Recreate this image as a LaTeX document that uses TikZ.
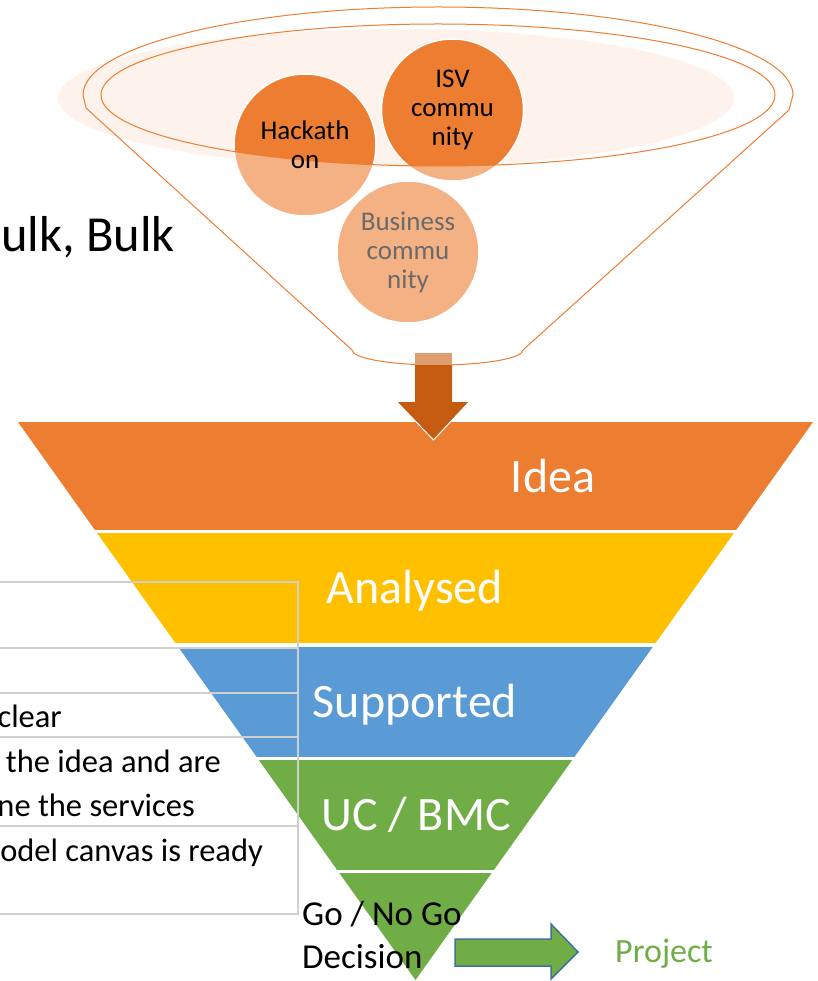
\documentclass[tikz,border=0pt]{standalone}
\usepackage{fontspec}
\setmainfont{Carlito}
\usetikzlibrary{positioning}

\definecolor{ideaorange}{HTML}{ED7D31}
\definecolor{analysedyellow}{HTML}{FFC000}
\definecolor{supportedblue}{HTML}{5B9BD5}
\definecolor{ucgreen}{HTML}{70AD47}
\definecolor{paleorange}{HTML}{FDF3EC}
\definecolor{bubblelight}{HTML}{F4B183}
\definecolor{arrowdark}{HTML}{C55A11}
\definecolor{arrowlight}{HTML}{E09D70}
\definecolor{boxgray}{HTML}{D0D0D0}
\definecolor{bubblegray}{HTML}{6A6A6A}
\definecolor{arrowblue}{HTML}{41719C}

\begin{document}
\begin{tikzpicture}[x=1pt,y=-1pt,
    bandlabel/.style={anchor=base,inner sep=0pt,text=white,font=\fontsize{48}{48}\selectfont},
    bubble/.style={align=center,inner sep=0pt,font=\fontsize{27}{29}\selectfont},
    listline/.style={draw=boxgray,line width=1.5pt},
    listtext/.style={anchor=base east,inner sep=0pt,font=\fontsize{32.5}{32.5}\selectfont}]
      \useasboundingbox (0,0) rectangle (817,981);

      % Top funnel > pale background
      \fill[paleorange] (396,98) ellipse [x radius=338, y radius=69];

      % Bubbles (light where they leave the rim)
      \fill[bubblelight] (305,145) circle (71);
      \fill[bubblelight] (452.5,110) circle (71);
      \fill[bubblelight] (408,252) circle (71);
      \begin{scope}
        \clip (438,95) ellipse [x radius=337, y radius=71];
        \fill[ideaorange] (305,145) circle (71);
        \fill[ideaorange] (452.5,110) circle (71);
      \end{scope}
      \draw[white,line width=1.5pt] (305,145) circle (71);
      \draw[white,line width=1.5pt] (452.5,110) circle (71);
      \draw[white,line width=1.5pt] (408,252) circle (71);

      % Top funnel > rim and body
      \draw[ideaorange,line width=1pt] (438,95) ellipse [x radius=337, y radius=71];
      \draw[ideaorange,line width=1pt] (83,95)
        arc [start angle=180, end angle=360, x radius=355, y radius=88]
        -- (789,110) -- (523,350)
        arc [start angle=0, end angle=180, x radius=85.5, y radius=15]
        -- (86,108) -- cycle;

      \node[bubble] (hackathon) at (305,145) {Hackath\\on};
      \node[bubble] (isv) at (452.5,110) {ISV\\commu\\nity};
      \node[bubble,text=bubblegray] (business) at (408,252) {Business\\commu\\nity};

      \node[anchor=base east,inner sep=0pt,font=\fontsize{50.5}{50.5}\selectfont] (bulk) at (175,252) {ulk, Bulk};

      % Stage funnel
      \begin{scope}
        \clip (18,422) -- (813,422) -- (415.5,980) -- cycle;
        \fill[ideaorange] (0,422) rectangle (817,530);
        \fill[analysedyellow] (0,533) rectangle (817,643);
        \fill[supportedblue] (0,647) rectangle (817,757);
        \fill[ucgreen] (0,760) rectangle (817,870);
        \fill[ucgreen] (0,873) rectangle (817,981);
      \end{scope}

      % Down arrow into the funnel
      \fill[arrowlight] (415,353) rectangle (452,365);
      \fill[arrowdark] (415,365) -- (452,365) -- (452,402) -- (469,402)
        -- (433.5,440) -- (397,402) -- (415,402) -- cycle;
      \draw[white,line width=1pt] (469,402) -- (433.5,440) -- (397,402);

      \node[bandlabel] (idea) at (553,492) {Idea};
      \node[bandlabel] (analysed) at (415,603) {Analysed};
      \node[bandlabel] (supported) at (415,717) {Supported};
      \node[bandlabel] (ucbmc) at (416,830) {UC / BMC};

      % Criteria table
      \draw[listline] (0,582) -- (298,582) -- (298,914) -- (0,914);
      \draw[listline] (0,648) -- (298,648);
      \draw[listline] (0,693) -- (298,693);
      \draw[listline] (0,737) -- (298,737);
      \draw[listline] (0,826) -- (298,826);

      \node[listtext] (crit1) at (62,727) {clear};
      \node[listtext] (crit2) at (221,772) {the idea and are};
      \node[listtext] (crit3) at (195,816) {ne the services};
      \node[listtext] (crit4) at (263,861) {odel canvas is ready};

      % Decision and outcome
      \node[anchor=west,inner sep=0pt,align=left,font=\fontsize{35}{43}\selectfont] (decision) at (302,935) {Go / No Go\\Decision};
      \filldraw[fill=ucgreen,draw=arrowblue,line width=1.5pt] (455,939) -- (551,939) -- (551,924)
        -- (578,952) -- (551,979) -- (551,966) -- (455,966) -- cycle;
      \node[anchor=base west,inner sep=0pt,text=ucgreen,font=\fontsize{34}{34}\selectfont] (project) at (615,962) {Project};
    \end{tikzpicture}
\end{document}
